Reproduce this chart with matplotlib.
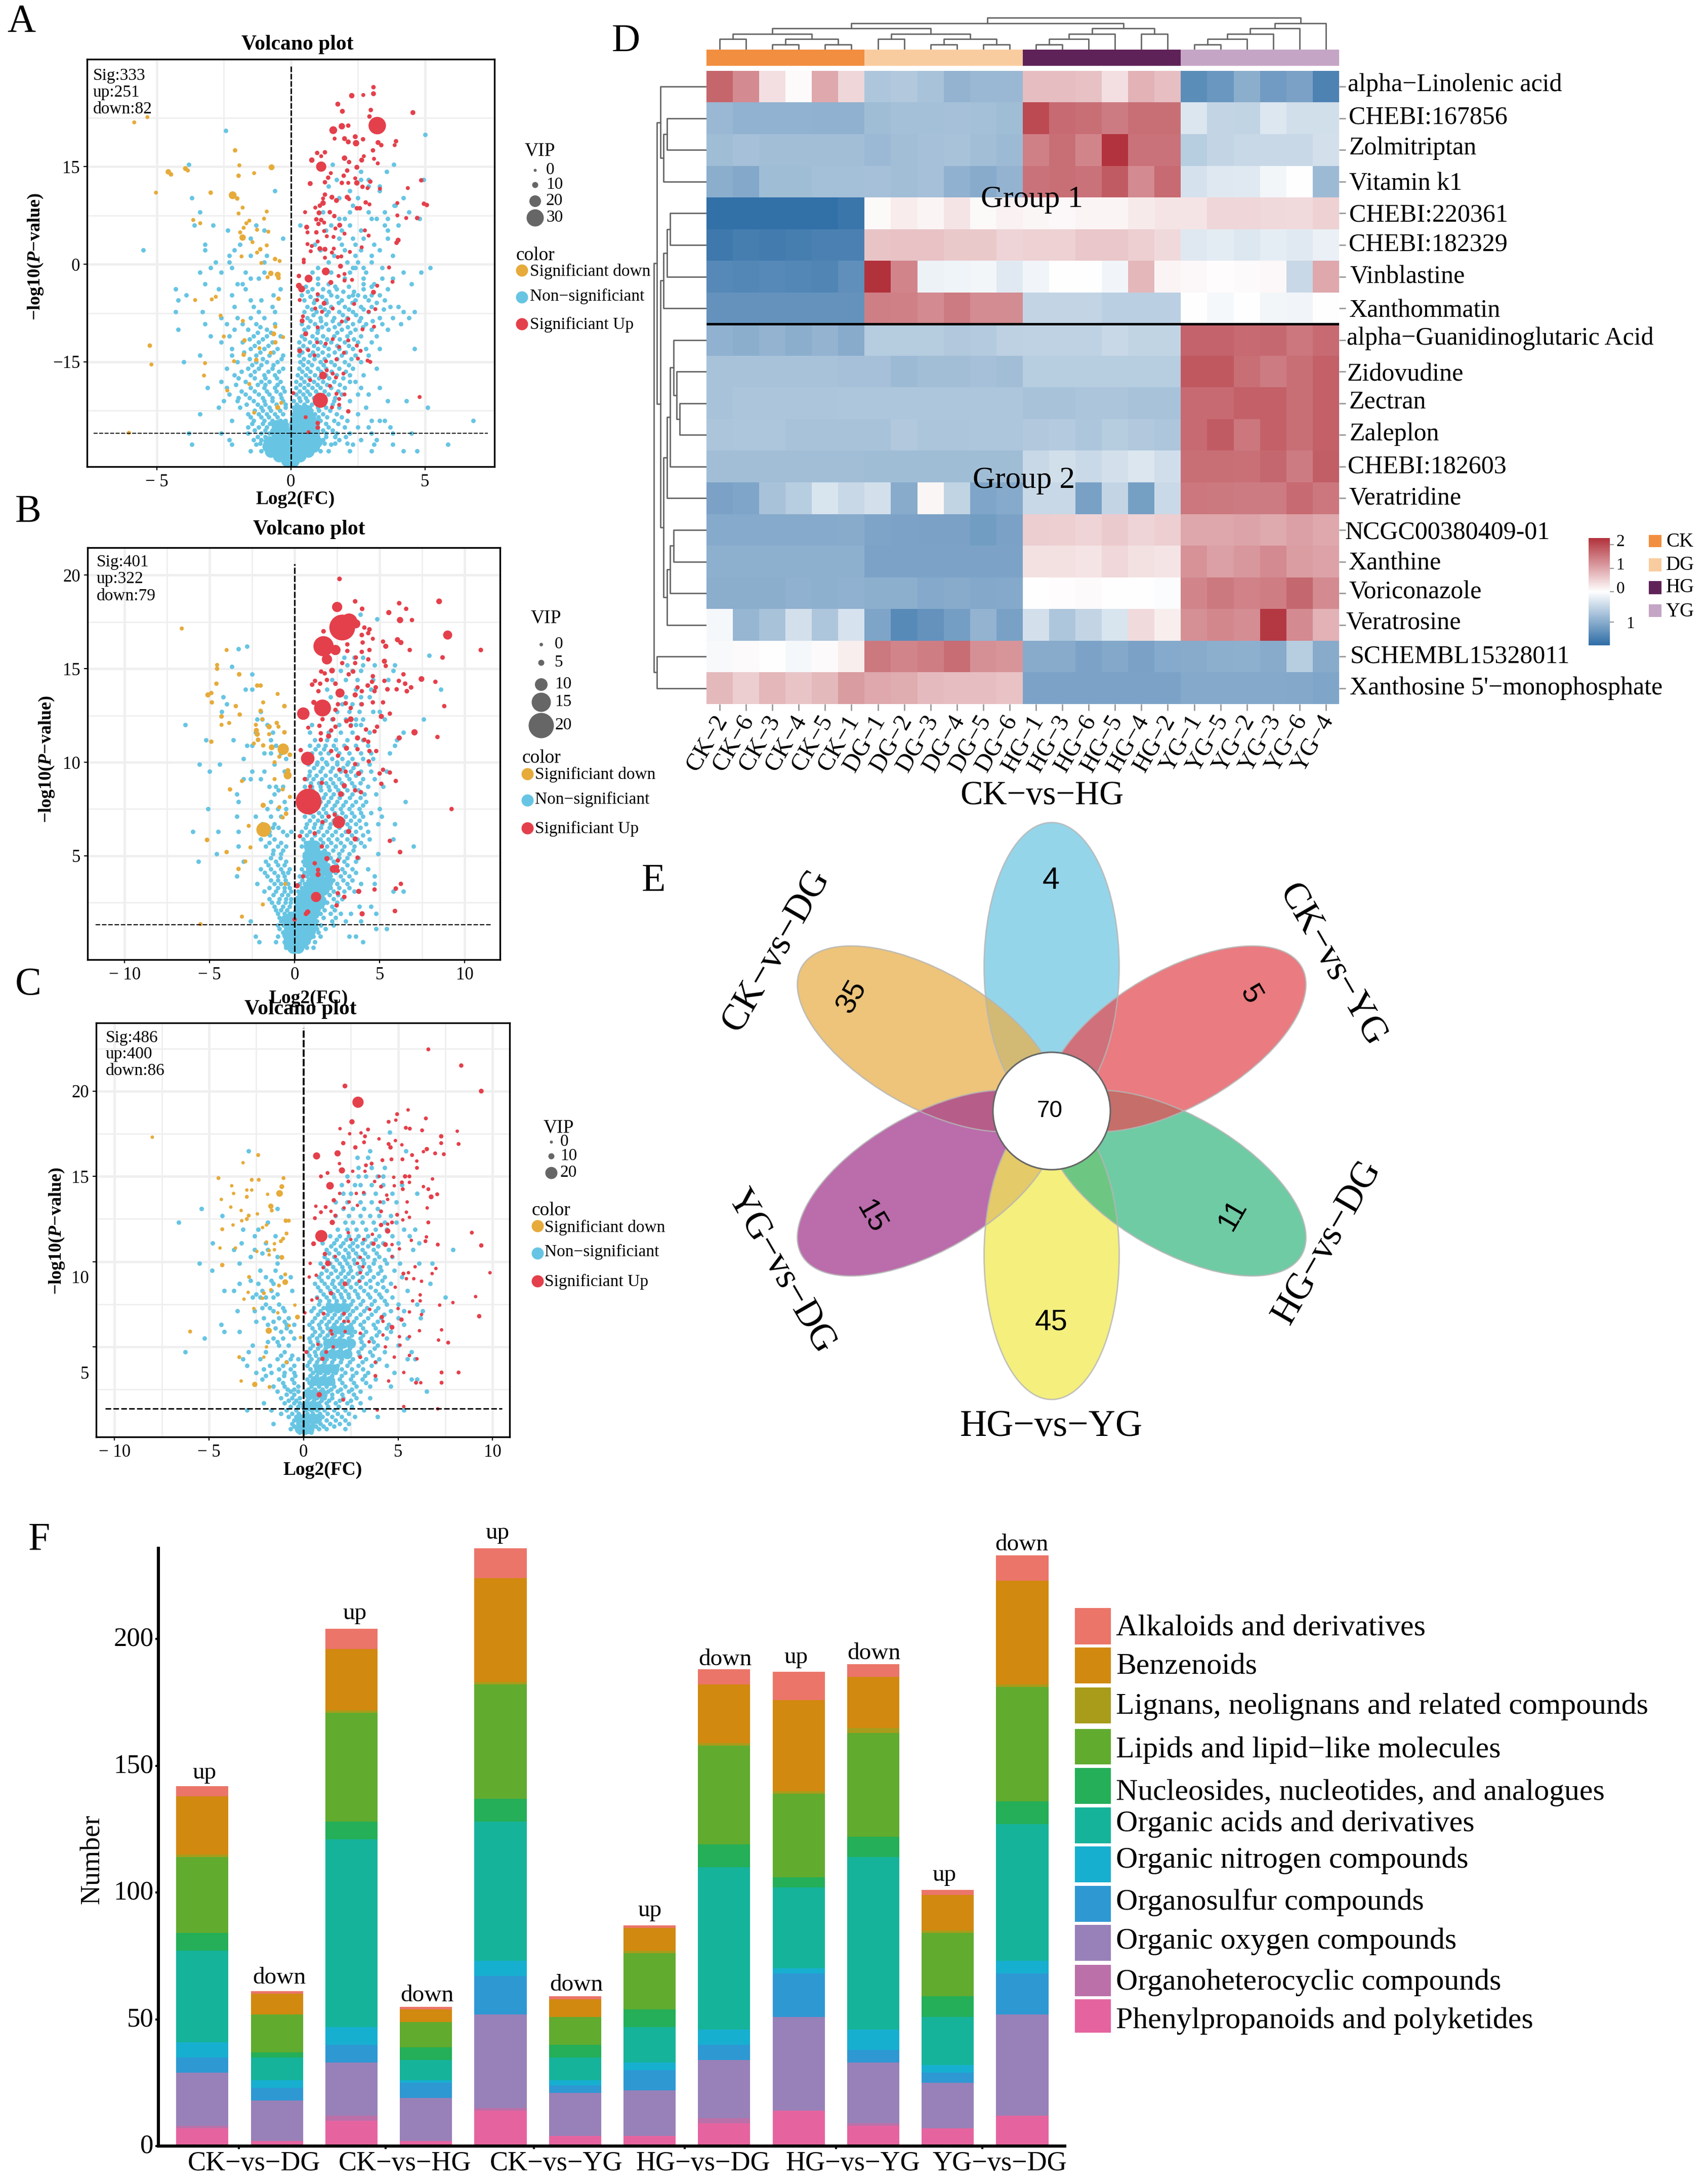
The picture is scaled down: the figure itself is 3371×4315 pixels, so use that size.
import math
import matplotlib
matplotlib.use('Agg')
import matplotlib.pyplot as plt
from matplotlib.colors import LinearSegmentedColormap, TwoSlopeNorm
from matplotlib.patches import Ellipse, Circle
from matplotlib.transforms import ScaledTranslation

plt.rcParams['font.family'] = ['Liberation Serif', 'DejaVu Sans']
plt.rcParams['mathtext.fontset'] = 'custom'
plt.rcParams['mathtext.rm'] = 'Liberation Serif'
plt.rcParams['mathtext.bf'] = 'Liberation Serif:bold'
plt.rcParams['mathtext.bfit'] = 'Liberation Serif:italic:bold'

W, H = 3371, 4315
# ------------------------------------------------------------------ volcano A
A_BLUE = [(20.5,[-2.43]),(19.9,[5.0]),(15.3,[1.56,3.83,-3.8]),(14.2,[3.58,2.6]),(13,[2.6,1.7,4.94,2.9]),(12,[2.9,1.4,3.3]),
 (11.3,[-0.6,2.2,3.3]),(10.2,[4.2,2.5,1.8,-3.7]),(9,[3.85,2.3,3.9]),(8,[-3.4,2.2,2.9,3.5,4.4,1.2]),(7,[3.2,4.8,3.0,1.8,2.0,3.6]),
 (6,[-2.9,0.35,1.5,2.2,3.5,4.0,-3.6,-1.3]),(5.2,[-2.35,1.3,1.9,2.6,3.6,-1.0]),(4,[1.8,2.3,3.6,2.7,-1.5,-0.3]),
 (3,[0.9,1.9,2.4,3.1,-1.9,-3.2]),(2.2,[-5.5,1.1,2.0,2.6,3.3,-2.1,-3.2]),(1.3,[-2.3,1.6,2.4,3.0,3.8,-1.5,-.9]),
 (.3,[-2.8,-2.3,1.4,2.1,2.5,3.0,-1.0]),(-.5,[-2.2,-3.0,1.0,2.3,2.4,2.7,3.4,5.2]),(-1.2,[-3.4,-2.6,-1.7,.8,1.5,2.2,2.8,4.85,4.2,-1.0]),
 (-2.2,[-1.5,-1.2,.6,1.0,2.0,2.7,3.4,3.8]),(-3,[-3.2,-1.8,1.0,1.4,2.7,3.1,4.5,-2]),(-3.8,[-4.3,-2.7,-1.7,-.4,.8,1.2,1.7,2.7,3.6]),
 (-4.7,[-3.9,-2.2,-.65,.4,1,1.5,2.3,2.5,3,3.3]),(-5.5,[-4.2,-1.5,-1.1,.5,.9,1.3,1.9,2.4,2.9,3.5]),
 (-6.5,[-2.1,-1.4,-.7,.6,1.1,1.5,2.0,2.6,3.0,3.7,4.0]),(-7.3,[-4.3,-3.3,-1.2,-.6,.5,.95,1.4,1.8,2.3,2.9,4.2,4.6]),
 (-8.2,[-2.6,-2,-1.5,-1.0,.6,1.1,1.6,2.1,2.6,3.3,3.8,4.4]),(-9.2,[-3.2,-2.4,-1.8,-1.3,-.6,.4,.9,1.3,1.8,2.3,2.8,3.4,4.1]),
 (-10,[-4.2,-2.1,-1.6,-.9,.5,1.0,1.4,1.9,2.4,3.0,3.6]),(-11,[-3,-2.3,-1.4,-.9,-.4,.4,.8,1.2,1.6,2.1,2.6,3.2]),
 (-12,[-2.6,-1.8,-1.2,-.7,.3,.7,1.1,1.5,2.0,2.5,3.0]),(-13,[-2.2,-1.5,-1,-.5,.3,.6,1.0,1.4,1.8,2.3,2.8,3.3,4.6]),
 (-14,[-3.4,-2.2,-1.3,-.8,-.3,.3,.7,1.0,1.4,1.9,2.4,2.9]),(-15,[-4,-2,-1.3,-.9,-.5,.35,.65,1.1,1.5,2,2.6]),
 (-16,[-2.4,-1.6,-1.2,-.7,-.3,.3,.6,1.0,1.3,1.8,2.3,3.2]),(-17,[-2.1,-1.5,-1.0,-.6,.25,.55,.9,1.3,1.7,2.2,2.7]),
 (-18,[-2.6,-1.7,-1.1,-.8,-.4,.2,.5,.85,1.2,1.6,2.2,2.4]),(-19,[-3.1,-2.4,-1.5,-1,-.6,-.3,.2,.5,.8,1.1,1.5,2,2.6,3.3]),
 (-20,[-2.3,-1.7,-1.2,-.8,-.4,.2,.45,.7,1.0,1.4,1.9,2.5,2.9]),(-21,[-2.5,-2.0,-1.4,-1,-.7,-.3,.1,.35,.6,.9,1.2,1.6,2.2,3.6,4.3]),
 (-22,[-2.7,-1.9,-1.1,-.8,-.5,-.2,.1,.4,.7,1,1.3,1.8,2.8,5.1]),(-23,[-3.4,-1.6,-1.2,-.9,-.6,-.3,.1,.35,.6,.9,1.2,1.7,2.5]),
 (-24,[-2.2,-1.4,-1,-.7,-.4,-.2,.1,.3,.5,.8,1.1,1.6,2.1,3,3.3,3.5,6.8]),(-25,[-1.6,-1.2,-.9,-.6,-.3,.1,.3,.5,.7,1,1.4,2,2.5,2.9,3.7]),
 (-26,[-3.8,-2.6,-1.6,-1.1,-.8,-.5,-.2,.1,.3,.5,.7,1,1.3,1.7,2.2,3,3.8,4.5]),(-27,[-2.3,-1.4,-1.1,1.2,1.8,2.6,3.2]),
 (-27.7,[-3.7,-2.2,-1.3,2.3,3.1,3.8,5.85,1.5]),(-28.7,[-1.5,-1.1,1.1,1.4,2.2,3.0,4.2,4.7])]
A_DENSE = [(-3.4,[.55,1.65,2.15,3.0]),(-4.2,[.62,1.42,1.95,2.35]),(-5.0,[.72,1.15,1.72,2.15,2.75]),(-5.9,[.85,1.32,1.78,2.28,3.2]),(-6.9,[.78,1.25,2.15,2.7,3.45]),
 (-7.8,[.83,1.33,1.92,2.42]),(-8.7,[.72,1.12,1.55,2.05,2.55,3.05]),(-9.6,[.65,1.15,1.62,2.12,2.68,-1.15]),(-10.5,[.55,.98,1.72,2.22,-1.25,-.75]),
 (-11.5,[.52,.95,1.35,1.82,2.35,-1.55,-1.05]),(-12.5,[.45,.85,1.25,1.72,2.15,-1.35,-.85]),(-13.5,[.42,.82,1.18,1.62,2.05,-1.75,-1.15,-.65]),
 (-14.5,[.48,.88,1.25,1.72,2.25,-1.55,-1.05,-.35]),(-15.5,[.45,.78,1.22,1.62,2.15,-1.45,-1.1,-.65]),(-16.5,[.42,.72,1.12,1.52,2.05,-1.85,-1.35,-.85,-.45]),
 (-17.5,[.38,.68,1.05,1.42,1.95,-1.95,-1.35,-.95,-.52]),(-18.5,[.35,.65,.98,1.35,1.82,-2.05,-1.25,-.95,-.5]),(-19.5,[.32,.6,.92,1.25,1.75,-1.85,-1.35,-.9,-.55,-.25]),
 (-20.5,[.3,.55,.85,1.15,1.65,-1.95,-1.55,-1.05,-.7,-.35]),(-21.5,[.22,.5,.78,1.12,1.55,-1.65,-1.25,-.95,-.55,-.2]),(-22.5,[.25,.5,.75,1.05,1.45,-1.35,-1.05,-.75,-.42]),
 (-23.5,[.22,.48,.72,1.02,1.35,1.9,-1.5,-1.1,-.82,-.5]),(-24.5,[.2,.42,.66,.95,1.3,1.75,-1.45,-1.05,-.78,-.48]),(-25.5,[.2,.42,.62,.88,1.2,1.55,-1.35,-.95,-.7,-.4]),
 (-26.5,[1.0,1.3,1.65,2.05,-1.25,-.95]),(-27.5,[1.25,1.65,2.1,-1.15])]
A_CORE = [(-26.5,[-.5,-.25,0,.25,.5,.75]),(-27.3,[-.8,-.5,-.2,.1,.4,.7,.95]),(-28,[-.85,-.6,-.3,0,.3,.6,.85]),(-28.8,[-.75,-.5,-.2,.1,.4,.65]),
 (-29.5,[-.45,-.2,.1,.35]),(-30.2,[-.15,.1]),(-25.5,[.12,.35,.6,.85]),(-24.5,[.15,.4,.65,.85]),(-23.5,[.2,.45,.7]),(-22.5,[.28,.55]),(-25.8,[-.55,-.3]),(-24.8,[-.5,-.3])]
A_ORANGE = [(-5.35,22.6,2),(-5.84,21.8,2),(-2.08,17.5,3),(-1.92,15.2,2),(-.72,14.9,6),(-1.37,14,2),(-1.95,13.6,3),(-4.57,14.2,5),(-4.47,13.8,3),
 (-3.93,14.7,4),(-3.84,14.4,2),(-5.03,11,2),(-2.99,11,3),(-2.17,10.6,10),(-2,10.1,3),(-1.8,8.7,2),(-.9,8.1,2),(-1.95,7.8,2),(-3.64,6.8,2),
 (-3.38,6.3,2),(-1,7,2),(-1.55,6.7,2),(-1.66,6.3,2),(-1.76,5.6,2),(-1.26,5.3,2),(-1.89,4.9,2),(-.84,5,2),(-1.8,4.1,7),(-1.43,3.4,2),(-.9,2.9,2),
 (-1.14,2.3,3),(-1.26,1.8,2),(-1.84,1.2,2),(-.59,.8,3),(-.42,.5,2),(-1.1,.2,2),(-.75,-1.4,5),(-.49,-1.6,6),(-.46,-2.1,3),(-.87,-2,2),(-.46,-5.3,3),
 (-2.8,-5,2),(-3.57,-5.5,2),(-2.95,-5.4,2),(-2.62,-7.9,2),(-1.79,-8.7,2),(-.58,-9.6,2),(-.64,-10.7,4),(-.29,-11.2,2),(-2.5,-11.1,2),(-1.73,-11.7,3),
 (-.58,-12,3),(-5.26,-12.5,3),(-1.17,-12.9,2),(-.75,-13.6,2),(-1.76,-13.9,3),(-5.2,-15.4,2),(-1.29,-14.7,3),(-2.12,-14.9,2),(-3.2,-15.2,2),
 (-3.24,-17.1,2),(-1.55,-18.4,2),(-2.37,-19.4,2),(-.36,-21.3,2),(-.49,-22,4),(-1.37,-22.8,2),(-6.04,-25.9,2)]
A_RED = [(3.22,21.3,30),(1.1,-20.9,25),(1.13,15,15),(1.58,20.6,10),(1.9,21.2,7),(1.3,-1.1,10),(.66,-2.2,10),(1.2,-17.1,10),(.4,-3.8,8),(.3,-3.3,6),
 (2.43,18.6,7),(2.27,25.9,5),(3.08,26.2,4),(3.08,27.2,3),(2.7,26,2),(1.75,24.6,4),(1.92,23.5,4),(4.55,23.3,4),(2.98,23.7,3),(2.93,22.7,3),(2.14,21.3,3),
 (1.63,19.3,2),(2,19.3,4),(2.14,18.8,4),(2.4,19.6,4),(2.69,19.2,3),(3.25,18.7,4),(3.37,18.3,3),(3.92,18.9,3),(3.87,18.3,2),(3.06,17.5,3),(1.27,17.2,3),
 (.98,17.1,3),(1.13,16.6,2),(.78,16,5),(2,16.3,5),(2.17,15.7,3),(2.64,16,4),(2.72,16.6,2),(3.1,16.2,2),(3.24,15.5,2),(2.46,14.9,4),(2.1,14.4,3),(1.97,13.6,3),
 (1.49,14,2),(1.39,13.3,3),(2.4,13.2,2),(.72,12.4,4),(1.27,12.6,3),(1.9,12.5,3),(2.14,12.5,2),(2.46,12.5,5),(2.96,12.7,3),(2.67,11.9,3),(2.86,11.7,2),(3.32,11.6,2),
 (4.86,12.9,3),(4.36,11.7,2),(1.27,10.7,3),(1.2,10.1,2),(1.53,10.3,4),(1.7,9.8,4),(2.1,10.3,4),(2.17,10,2),(2.79,9.5,3),(2.93,9.2,2),(1.2,9.4,5),(1.08,9,3),(.91,8.7,2),
 (2.46,8.6,3),(2.57,8.6,3),(3.97,9.4,2),(4.96,9.3,3),(5.07,9.1,3),(.53,8,2),(1.05,7.9,4),(1.45,8,3),(1.62,7.4,3),(3.97,7.5,2),(4.3,7.1,2),(4.71,7.1,3),(.95,6.9,3),
 (1.13,6.8,3),(1.03,6.2,3),(1.82,6,4),(.59,5.7,4),(1.24,6.4,2),(1.66,5.5,2),(.95,4.9,3),(1.24,5.1,2),(.62,4.9,2),(1.34,4.3,2),(1.59,4.2,2),(2,4.7,2),(2.76,5.2,2),(2.9,4.4,2),
 (1,3.5,2),(4,3.7,4),(3.94,3.3,3),(.62,3.1,2),(.78,2.8,2),(1.08,2.4,4),(1.27,2.3,4),(.74,2,2),(2.64,2.6,2),(1.6,2.4,2),(2.2,1.9,2),(1.53,1.8,2),(1.88,1.2,2),(1.75,1.1,2),
 (.48,.7,2),(1.27,1,2),(.48,.3,2),(1.85,-.3,4),(3.66,-.5,2),(2,-1.5,2),(.3,-1.8,3),(1.78,-1.8,2),(1.49,-2.8,4),(2,-2.5,2),(2.28,-2.4,2),(3.22,-3.3,2),(3.79,-2.7,2),(3.08,-4.3,4),
 (.33,-5.5,2),(1,-4.6,2),(.98,-5.5,2),(1.24,-6,4),(2.36,-6.1,2),(2.9,-7.3,2),(3.15,-6.9,2),(1.56,-6.8,2),(1.16,-7.3,2),(.91,-6.8,2),(.45,-8,2),(.42,-8.7,4),(2.14,-8.4,2),(1.9,-8.8,2),
 (1,-9.7,2),(.55,-10.7,4),(2.67,-10,2),(3.1,-9.6,2),(.98,-12,2),(1.56,-11.5,2),(2.14,-11.7,2),(1.3,-12.2,2),(2.46,-12.5,2),(1.8,-12.7,2),(.33,-13.3,4),(.65,-13.2,2),(2.6,-13.3,2),
 (1.98,-13.6,2),(.88,-14,2),(2.5,-14.5,2),(1.31,-14.9,2),(1.7,-14.6,2),(2.86,-14.8,2),(2.96,-15,2),(1.34,-16.3,2),(1.56,-16.8,2),(1.96,-16.8,2),(1.68,-17.4,2),(.72,-17.8,2),(1.46,-18.7,2),
 (.09,-19.8,2),(1.7,-19.9,2),(2,-20,2),(1.8,-20.7,2),(1.8,-21.6,2),(1.53,-22,2),(4.8,-20.4,2),(2.14,-22.6,3),(.55,-23.5,2),(1,-24.4,3),(1,-25.1,3),(.66,-25.8,2)]
# ------------------------------------------------------------------ volcano B
B_BLUE = [(17.9,[3.85]),(17.66,[4.85]),(15.7,[7.9]),(16.2,[-2.8]),(16.05,[-3.3]),(15.1,[-3.7]),(15.6,[2.9,3.5,4.0]),(15.2,[3.1,4.0,4.7,5.9]),(14.9,[2.7,3.4,3.9,5.8]),
 (14.7,[-2.5]),(14.4,[2.2,3.0,3.7,4.6,5.5]),(13.9,[1.9,3.6,4.5,8.6,-2.9,-2.5]),(13.5,[2.1,3.0,3.9,4.4,-4.2]),(13.1,[2.8,3.4,3.9,-4.0]),(12.7,[2.5,3.2,3.8,4.6,5.0,-4.3,-2.0]),
 (12.3,[2.2,3.0,3.6,4.0,5.3,7.6,-2.2,-1.9]),(12,[1.0,2.6,3.3,3.6,3.9,-6.44,-1.6]),(11.6,[0.9,2.0,2.7,3.4,4.4,6.4,-1.3,-2.3]),(11.2,[1.2,1.9,2.4,3.1,4.0,6.0,-5.2,-3.6,-1.4]),
 (10.9,[.9,1.4,1.8,2.3,2.9,3.6,4.3,5.9,-2.8,-2.5,-1.1]),(10.5,[1.0,1.5,2.0,2.6,3.2,3.9,4.5,5.6,-1.8,-1.4,-.8]),(10.2,[1.0,1.6,2.2,2.8,3.4,4.0,4.6,-3,-.5]),
 (9.9,[.8,1.3,1.9,2.5,3.1,3.7,4.4,-5.6,-4.4,-1.2]),(9.5,[.9,1.5,2.1,2.7,3.3,3.9,4.5,5.4,-5,-2.5,-1.8,-.6]),(9.1,[.7,1.1,1.6,2.1,2.6,3.2,4.0,4.7,-3.0,-2.6,-2.0]),
 (8.7,[.6,1.0,1.5,2.0,2.4,2.9,3.5,4.3,5.2,-1.5,-1.1,-.7]),(8.3,[.8,1.3,1.8,2.3,2.8,3.4,4.1,4.8,-3.4,-1.2]),(7.9,[1.5,2.0,2.5,3.0,3.6,4.2,6.5,-3.3,-1.4,-.6]),
 (7.5,[1.2,1.7,2.2,2.7,3.2,3.8,5.0,-5.1,-1.6,-1.0,-.5]),(7.1,[.6,1.1,1.6,2.0,2.5,3.0,3.5,4.0,5.1,-3.4,-2.3,-1.4,-.8]),(6.7,[.7,1.2,1.6,2.1,3.1,3.6,4.2,4.9,5.9,-1.9,-1.2]),
 (6.3,[.4,.9,1.4,1.9,2.4,3.0,3.6,4.3,-6.0,-4.5,-3.3,-1.5,-.7,-.2]),(5.9,[.5,1,1.5,2,2.5,3.1,3.7,4.4,5.8,-2.0,-1.2]),(5.5,[.4,.9,1.4,1.9,2.4,2.9,3.5,4.1,7.0,-3.3,-1.7,-1.0,-.5]),
 (5.1,[.6,1.0,1.5,2.0,2.6,3.2,4.9,-4.6,-1.3,-.8]),(4.7,[.5,.9,1.3,1.8,2.3,2.9,3.6,-5.65,-3.0,-1.7,-1.1,-.5]),(4.3,[.4,.8,1.2,1.7,2.2,2.8,3.4,4.3,-2.0,-1.4,-.8,-.3]),
 (3.9,[.3,.7,1.1,1.6,2.1,2.7,3.2,4.7,-3.4,-1.6,-1,-.6]),(3.5,[.3,.6,1.0,1.5,2.0,2.5,3.1,3.9,4.7,-2.2,-1.2,-.8,-.4]),(3.1,[.2,.6,.9,1.3,1.8,2.3,2.9,3.5,-1.8,-1.1,-.6,-.2,5.8,6.4]),
 (2.7,[.1,.4,.8,1.2,1.7,2.3,2.8,-1.5,-.9,-.5,-.2]),(2.3,[.1,.4,.7,1.1,1.6,2.2,3.8,4.5,-1.2,-.7,-.3]),(1.9,[.1,.4,.7,1,1.5,2.1,2.7,3.3,4.8,-1,-.6,-.3,-.2]),
 (1.5,[.1,.3,.6,.9,1.3,2.2,3,3.9,-2.6,-.8,-.5,-.2]),(1.1,[.1,.3,.6,.9,1.3,1.8,4.8,5.4,-.9,-.5,-.2]),(.7,[.1,.3,.5,.8,1.1,1.5,3.2,3.6,-2.3,-1,-.5,-.2]),
 (.4,[.1,.3,.5,.8,1.2,4,-2.1,-1.1,-.6,-.3]),(.1,[.0,.2,.4,.7,1.1,-.5,-.2])]
B_DENSE = [(10.7,[1.22,1.72,2.45]),(10,[1.32,1.85,2.5,3.15]),(9.7,[1.12,1.62,2.22,2.85,3.45]),(9.3,[.85,1.28,1.82,2.4,3.05,3.6]),(8.9,[.95,1.42,1.85,2.25,2.75,3.35,3.85]),
 (8.5,[1.05,1.55,2.05,2.55,3.1,3.75,-.95]),(8.1,[1.15,1.7,2.15,2.65,3.25,3.85]),(7.7,[1.35,1.85,2.35,2.85,3.4,4.0]),(7.3,[.92,1.42,1.85,2.35,2.8,3.35,3.9,4.5]),
 (6.9,[.88,1.35,1.82,2.3,2.85,3.3,3.8]),(6.5,[.65,1.12,1.55,2.05,2.6,3.25,3.85,-.95,-1.3]),(6.1,[.72,1.2,1.7,2.2,2.75,3.35,4.0,-.45,-1.45]),(5.7,[.65,1.15,1.65,2.15,2.7,3.3,3.9,-1.5,-.8]),
 (5.3,[.7,1.2,1.75,2.25,2.8,3.45,-1.25,-.7]),(4.9,[.65,1.05,1.55,2.1,2.6,3.1,3.75,-1.4,-.85]),(4.5,[.6,1.0,1.4,1.95,2.45,3.1,-1.55,-1.0,-.6]),(4.1,[.55,.95,1.4,1.9,2.4,2.95,3.6,-1.75,-1.2,-.7,-.4]),
 (3.7,[.45,.85,1.3,1.75,2.25,2.85,3.4,-1.4,-1.0,-.55]),(3.3,[.4,.75,1.15,1.6,2.1,2.6,3.2,-1.5,-1.0,-.6,-.3]),(2.9,[.35,.7,1.05,1.5,2.05,2.55,-1.25,-.75,-.4]),
 (2.5,[.25,.55,.95,1.4,1.9,2.5,-1.35,-.95,-.55,-.25]),(2.1,[.25,.55,.85,1.25,1.75,2.35,-1.1,-.8,-.45]),(1.7,[.25,.5,.85,1.15,1.7,2.4,-.9,-.65,-.35]),(1.3,[.2,.45,.75,1.1,1.55,2.3,-1.0,-.65,-.35]),(.9,[.2,.45,.7,1.0,1.4,-.7,-.35])]
B_CORE = [(5.5,[.9,1.2]),(5,[.8,1.1,1.4,1.7]),(4.6,[.9,1.2,1.5]),(4.2,[1.0,1.3,1.6,1.9]),(3.6,[1.0,1.3,1.6,1.9]),(3.2,[.8,1.1,1.4,1.7]),(2.9,[.5,.8,1.1,1.4]),(2.6,[.3,.6,.9,1.2,1.5]),
 (2.2,[.3,.6,.9,1.2]),(1.9,[.2,.5,.8,1.1]),(1.6,[.0,.3,.6,.9,-.4]),(1.3,[-.2,.1,.4,.7,1.0]),(1.0,[-.3,.0,.3,.6,.9]),(.8,[-.4,-.1,.2,.5,.8]),(.5,[-.3,.0,.3,.6]),(.3,[-.3,0,.3]),(.1,[-.1,.2])]
B_ORANGE = [(-6.64,17.15,.5),(-4,16,.5),(-4.56,15.2,.5),(-4.56,15,.8),(-3.26,14.7,1),(-4.6,14.2,.8),(-2.2,14.1,.8),(-2,14.1,.8),(-4.9,13.7,.8),(-5.1,13.6,1.5),(-1,13.65,.5),(-4.87,13.2,.8),
 (-3.46,13,.8),(-1.85,13.2,.5),(-.6,13,1),(-2,12.75,.8),(-3.23,12.55,.8),(-4.3,12.45,1),(-1.9,12.3,.5),(-3.85,12.1,.5),(-4.3,12,.5),(-2.28,12,.5),(-1.05,12.1,.8),(-2.25,11.7,1.5),(-1.5,11.9,1.5),
 (-.95,11.9,.5),(-2.2,11.5,1.5),(-.6,11.6,1),(-1.5,11.5,.5),(-2.15,11.2,1),(-4.9,11.1,.8),(-2.4,11,.5),(-1.85,10.9,.8),(-1.35,10.8,2),(-.67,10.7,7),(-.28,10.4,1),(-1.18,10,.5),(-.9,10.3,.5),
 (-.41,9.3,4),(-.4,9.55,1.5),(-3.1,9,.5),(-1.18,9.1,.5),(-3.8,8.55,.8),(-.7,8.55,.5),(-.28,8.15,.5),(-1.85,7.7,1.5),(-.9,7.6,.5),(-.5,7.25,1),(-.7,7.05,.5),(-2.7,6.6,.5),(-1.82,6.4,10),(-5.15,5.85,1),
 (-2.6,5.45,.5),(-4,5.2,.8),(-2.9,4.7,.5),(-3.3,4.3,.8),(-.55,3.5,.5),(-1.87,2.4,.5),(-3.1,1.75,.5),(-5.54,1.35,.5)]
B_RED = [(2.8,17.2,20),(3.2,17.5,12),(1.7,16.2,15),(.82,7.9,20),(1.64,12.9,12),(.77,10.2,9),(.51,12.6,8),(2.5,18.3,6),(2.6,6.8,8),(1.26,2.8,6),(2.67,13.7,5),(9,16.8,5),(2.4,16,6),(1.9,15.5,6),(3.6,17.4,5),
 (2.3,4.3,4),(8.5,18.6,2),(2.64,19.8,1),(3.56,18.6,1),(6.15,18.5,1),(6.56,18.2,.8),(3.97,18.2,1),(5.54,18,1.5),(6.2,17.6,2.5),(6.9,17.6,.8),(4.1,17.2,.8),(4.4,17.1,1),(4.33,16.9,.8),(1.7,17,1),(3.95,16.8,1),(4.6,16.6,.5),
 (5.2,16.45,.8),(6.05,16.55,1.5),(6.25,16.4,1.5),(5.36,16.2,1.5),(4,16.4,.8),(6.77,16,.8),(10.95,16,1),(3.1,16.3,.8),(3.1,15.95,.8),(3.95,15.9,.8),(4.4,16,.8),(8.7,15.6,1),(5.28,15.4,1.5),(3.6,15.6,.8),(4.33,15.5,.8),
 (2.8,15.3,.8),(3.56,15.3,.8),(5.36,15.15,.8),(2.2,14.9,2),(3.44,14.85,1),(7.46,14.45,2),(6.4,14.7,.8),(1.56,14.85,.8),(1.77,14.75,.8),(3.18,14.7,.8),(8.28,14.3,.8),(6.13,14.35,.8),(1.9,14.4,.8),(2.4,14.2,1),(4.6,14.6,.8),
 (5.28,14.35,.8),(1.2,14.35,.8),(1.03,14.15,1),(1.5,14.2,.8),(4.3,14.1,1),(4.55,14.3,.8),(3.7,14,.8),(6.5,14.2,1),(6.85,14,1),(4.77,14,1),(5.46,13.9,1),(6,13.9,.8),(6.6,13.8,1),(1.4,13.8,.8),(3.56,13.6,1.5),(3.95,13.8,.8),
 (4.7,13.8,.8),(1.13,13.2,1.5),(3,13.15,1),(3.95,13.1,.8),(4.6,13.2,.8),(5.2,13.2,.8),(8.8,13,.8),(2.4,12.8,.8),(3.3,12.9,.8),(2.55,13.1,.8),(5.1,12.45,1.5),(5.6,12.6,.8),(3.3,12.3,2),(3.05,12.2,1),(1.64,12.3,.8),
 (2.27,12.3,.8),(.8,11.85,.5),(1.46,11.95,.8),(2.4,11.9,.8),(2.15,11.7,.8),(3.3,11.95,.8),(4.85,11.9,.8),(4.7,11.65,.8),(4.2,11.75,.8),(7.05,11.6,2.5),(1.54,11.55,.8),(6.15,11.3,1.5),(8.4,11.35,.8),(2,11.4,1.5),
 (3.7,11.3,1.5),(4.1,11.2,.8),(4.33,11.1,.8),(1.54,11.2,.8),(3.05,10.75,1.5),(2.15,10.6,.8),(3.7,10.7,.8),(4.4,10.6,.8),(4.8,10.6,.8),(.36,10.65,.8),(3.56,9.9,.8),(4.36,10.05,.8),(2.55,10.35,.8),(5.2,9.6,.8),(5,9.4,.8),
 (5.6,9.45,.8),(3.77,9.4,1.5),(2.64,9.6,.8),(5.95,9,.8),(5.1,8.85,.8),(3,9.5,.8),(.6,9.1,.8),(1.6,8.9,.8),(.92,8.7,.8),(2.92,8.75,1.5),(2.72,8.3,2),(3.56,8.5,.8),(3.9,8.4,.8),(2.36,7.2,.8),(9.23,7.5,.8),(2,7.1,.8),(1.64,6.8,.8),
 (3.18,6.3,1.5),(1.18,6.2,.8),(.31,6.05,.8),(3.56,5.9,1.5),(5.6,5.8,.8),(6.2,5.2,1),(1.6,5.5,.8),(1.9,4.85,1.5),(2.54,4.75,.8),(1.18,4.6,.8),(3.7,4.9,.8),(2.5,4.4,.8),(2.54,4.2,.8),(1.38,4,1.5),(1.38,4.25,.8),(.5,3.9,.8),
 (6.25,3.5,.8),(5.95,3.25,1),(4.7,3.2,.8),(3.77,3.1,1.5),(.15,3.4,1.5),(2.54,3,.8),(2.92,2.8,1),(5.9,2.05,1),(3.97,1.9,1.5),(.77,2,1.5),(.67,1.9,1),(2.47,2.35,.8),(0,1.6,.8)]
# ------------------------------------------------------------------ volcano C
C_BLUE = [(17.6,[4.56]),(16.5,[3.5,5.4,-2.9]),(16.1,[2.85,3.4]),(15.5,[2.9,3.6,4.3]),(15,[2.3,2.9,3.3,3.9,4.2]),(14.5,[2.0,2.7,3.0,3.6,4.2,5.2]),(14,[2.1,2.5,3.2,3.8,4.7,6.0]),
 (13.5,[1.7,2.3,3.0,3.6,4.2,4.9]),(13.1,[2.1,2.6,3.2,3.9,-5.4,-1.4]),(12.7,[1.7,2.4,3.0,3.5,4.0,4.6,-4.3]),(12.3,[1.5,2.2,2.6,3.1,3.7,4.3,4.9,-6.6,-1.9]),(11.9,[1.8,2.3,2.8,3.3,3.8,4.4,5.3,5.9,-3.2,-2.4]),
 (11.5,[1.4,1.9,2.4,2.9,3.4,4.0,4.7,5.6,-2.6,-1.5]),(11.1,[1.0,1.6,2.1,2.6,3.1,3.6,4.2,5.0,6.1,-4.8,-3.3,-2.0]),(10.7,[1.2,1.7,2.2,2.6,3.1,3.7,4.5,5.8,7.9,-3.7,-2.6,-1.9]),
 (10.3,[1.1,1.6,2.1,2.4,2.9,3.4,4.0,4.7,-2.8,-1.4]),(9.9,[.9,1.4,1.9,2.3,2.7,3.2,3.7,4.4,5.1,6.1,6.8,-5.5,-3.4,-1.4]),(9.5,[1.2,1.7,2.1,2.5,3.0,3.5,4.1,4.8,-4.85,-2.3,-1.5]),
 (9.1,[.8,1.3,1.8,2.2,2.6,3.1,3.7,4.3,5.2,-2.0,-1.2,-.7]),(8.7,[.6,1.1,1.5,1.9,2.3,2.8,3.3,3.9,4.6,6.7,-3.4,-2.4,-1.6]),(8.3,[.9,1.4,1.8,2.2,2.7,3.2,3.8,4.4,5.5,-4.2,-3.7,-2.2,-1.7,-.6]),
 (7.9,[.7,1.2,1.6,2.0,2.4,2.9,3.5,4.1,4.7,7.5,-2.7,-2.3,-2.0,-1.6]),(7.5,[.8,1.3,1.7,2.1,2.5,3.0,3.6,4.4,5.0,6.0,-2.0,-1.3]),(7.1,[.4,.9,1.4,1.8,2.2,2.6,3.2,3.8,4.6,5.3,6.3,-3.5,-2.6,-1.6,-1.0]),
 (6.7,[.6,1.1,1.5,1.9,2.3,2.8,3.4,4.1,5,6.2,-2.1,-1.3,-.8]),(6.3,[.3,.8,1.2,1.6,2.0,2.5,3.0,3.7,4.5,5.3,-4.35,-1.9,-.9,-.5]),(5.9,[.6,1,1.4,1.8,2.2,2.7,3.3,4,4.6,-4.2,-3.4,-1.2,-.7]),
 (5.5,[.3,.7,1.1,1.5,1.9,2.4,3.0,3.6,4.4,5.5,-5.25,-1.6,-1.1,-.5]),(5.1,[.5,.9,1.3,1.7,2.1,2.6,3.2,3.9,5.0,-2.7,-1.3,-.8]),(4.7,[.2,.6,1,1.4,1.8,2.3,2.9,3.5,4.3,5.7,-6.25,-2.9,-2.0,-1]),
 (4.3,[.4,.8,1.2,1.6,2,2.6,3.3,4.0,-3.2,-2.3,-1.4,-.7,-.3,5.9,5.5]),(3.9,[.2,.6,1,1.4,1.8,2.3,2.9,3.6,4.4,-3.0,-1.8,-1.1,-.5]),(3.5,[.5,.9,1.3,1.7,2.2,2.8,3.4,4.8,-2.5,-1.7,-1.0,-.5]),
 (3.1,[.2,.6,1,1.4,1.9,2.5,3.1,3.8,5.7,6,-2.2,-1.3,-.6]),(2.7,[.4,.8,1.2,1.6,2.2,2.8,3.5,4.6,-1.6,-1.0,-.3]),(2.4,[.1,.5,.9,1.3,1.8,2.4,3.0,6.5,-1.4,-.7,-.3]),(2,[.3,.7,1.1,1.5,2.1,2.8,3.5,-1.2,-.6,-.2]),
 (1.7,[.1,.4,.8,1.2,1.7,2.3,3.0,-2.1,-1.0,-.5,-.2]),(1.3,[.1,.4,.7,1.1,1.6,2.2,3.2,5.3,-3,-1.7,-.9,-.4]),(.9,[.0,.3,.6,1,1.5,2,2.7,3.9,-.8,-.4,-.1]),(.5,[.0,.2,.5,.9,1.4,1.9,2.4,-1.6,-.6,-.3]),
 (.2,[.0,.2,.4,.8,1.2,2.2,-.7,-.3]),(0,[.0,.1,.4,-.2])]
C_DENSE = [(11.3,[1.75,2.25,2.75,3.25,3.8]),(10.9,[1.45,1.95,2.45,2.85,3.4,3.95]),(10.5,[1.35,1.85,2.35,2.75,3.25,3.85,-2.2]),(10.1,[1.25,1.75,2.2,2.65,3.15,3.75,4.3]),(9.7,[1.05,1.55,2.05,2.45,2.95,3.45,4.05]),
 (9.3,[.95,1.45,1.95,2.35,2.85,3.35,3.95]),(8.9,[.95,1.55,2.0,2.4,2.95,3.5,4.15,-1.7,-2.8]),(8.5,[.75,1.25,1.65,2.05,2.5,3.0,3.55,4.2]),(8.1,[1.05,1.55,1.95,2.35,2.85,3.4,4.0,-1.4,-2.5]),
 (7.7,[.85,1.35,1.75,2.15,2.6,3.15,3.75,4.3]),(7.3,[.55,1.05,1.55,1.95,2.35,2.8,3.35,3.95,-1.8,-1.1,-2.2]),(6.9,[.75,1.25,1.65,2.05,2.45,3.0,3.6,4.25]),(6.5,[.45,.95,1.35,1.75,2.15,2.65,3.2,3.9,-1.6,-1.0,-2.5]),
 (6.1,[.45,.85,1.25,1.65,2.05,2.55,3.15,3.8,4.4,-1.5,-.9]),(5.7,[.45,.85,1.25,1.65,2.05,2.55,3.15,3.85]),(5.3,[.35,.75,1.15,1.55,1.95,2.45,3.05,3.7,-1.9,-1.4]),(4.9,[.35,.75,1.15,1.55,1.95,2.45,3.05,3.75]),
 (4.5,[.3,.65,1.05,1.45,1.85,2.35,2.95,3.65,-1.2,-.6]),(4.1,[.3,.7,1.1,1.5,1.95,2.45,3.1,3.8,-.9]),(3.7,[.35,.75,1.15,1.55,2.0,2.55,3.15,-1.3,-.7,-2.1]),(3.3,[.35,.7,1.1,1.5,2.0,2.6,3.25,-1.05,-.45,-2.0]),
 (2.9,[.3,.7,1.1,1.55,2.05,2.65,3.3,-1.1,-.5]),(2.5,[.25,.6,1.0,1.45,1.95,2.55,-.85,-.5]),(2.2,[.3,.65,1.05,1.5,2.05,2.65,-.9,-.5]),(1.85,[.2,.55,.95,1.35,1.9,2.5,-.8,-.4]),(1.5,[.25,.55,.9,1.3,1.85,2.55,-.7,-.3]),
 (1.1,[.2,.5,.85,1.25,1.8,2.4,-1.2,-.6,-.25]),(.7,[.15,.4,.75,1.2,1.7,2.2,-.5,-.2]),(.35,[.1,.35,.65,1.05,1.6,-.5,-.15])]
C_CORE = [(5.2,[1.3,1.7,2.1,2.5]),(4.6,[1.1,1.5,1.9,2.3]),(6.0,[1.6,2.0,2.4]),(7.3,[1.4,1.8,2.2]),(3.7,[.8,1.2,1.6]),(3,[.6,1,1.4]),(2.2,[.3,.6,1]),(1.5,[.1,.4,.7]),(.8,[-.2,.1,.4,.7]),(.2,[-.2,.1,.3])]
C_ORANGE = [(-8,17.3,1),(-2.4,16.25,2),(-3.2,15.8,1),(-4.5,14.9,2),(-2.74,14.8,2),(-2.37,14.8,2),(-1.06,14.9,2),(-3.8,14.45,1),(-1.15,14.4,4),(-3,14.2,1),(-2.74,14.2,1),(-1.27,14,8),(-3.7,14,1),(-3,13.8,2),(-1.9,13.95,1),
 (-4.35,13.65,1),(-1.73,13.25,5),(-1.68,13,2),(-3.85,13.2,1),(-3.3,13,1),(-2.44,12.8,1),(-2.9,12.7,2),(-3,12.5,2),(-3.27,12.4,1),(-1.96,12.15,1),(-.94,12.4,3),(-.78,12.4,2),(-3.73,12.15,1),(-4.3,11.9,2),(-2.17,12,1),
 (-.9,11.65,2),(-1.08,11.35,2),(-1.2,11.2,2),(-1.54,11.05,1),(-1.96,11.15,1),(-4.42,10.8,1),(-3.6,10.8,1),(-2.47,10.6,1),(-1.82,10.65,1),(-1.54,10.7,1),(-1.82,10.4,1),(-1.15,10.25,4),(-4.3,9.8,3),(-.97,9.25,2),(-.97,8.8,6),
 (-2.88,9.1,2),(-1.3,8.6,2),(-1.73,8.35,1),(-2.1,8.15,2),(-2.93,8.2,1),(-3.15,7.8,1),(-2.17,7.85,1),(-.46,7.45,1),(-2.63,7.25,1),(-1.36,7,1),(-.32,6.75,4),(-6,5.9,2),(-1.84,5.95,7),(-.76,6.25,1),(-.16,5.55,1),(-1.96,5,1),
 (-3.4,4.4,2),(-2.1,4.4,1),(-.9,4.1,2),(-3.3,3,1),(-2.58,2.8,5),(-1.8,2.65,2)]
C_RED = [(2.88,19.35,18),(.94,11.5,20),(1.4,14.45,10),(.69,16.2,9),(1.8,16.35,7),(2.03,15.35,7),(1.29,9.9,6),(.83,2.2,5),(2.19,20.3,4),(9.4,20,4),(8.34,21.5,3),(6.6,22.45,2),(2.56,18.2,5),(5.53,18.9,1),(4.95,18.65,2),(4.88,18.3,1),
 (6.47,18.4,2),(4.5,18.2,2),(1.93,17.8,1),(3.04,17.55,1),(3.41,17.75,2),(5.41,17.85,2),(5.62,17.8,2),(6.27,17.7,2),(8.13,17.65,1),(2.44,17.5,1),(7.28,17.35,3),(3.25,17.35,2),(4.86,17.1,1),(3.99,17.2,1),(3.2,17,2),(2.1,16.95,3),
 (7.28,16.95,2),(8.2,16.9,2),(4.5,16.9,2),(4.6,16.7,3),(5.2,16.85,1),(2.74,16.7,3),(6.52,16.6,3),(7.42,16.3,2),(6.96,16.35,2),(6.34,16.45,1),(5.74,16.25,2),(4.17,15.95,2),(4.65,16,2),(5.23,16,2),(5.99,15.9,1),(3.6,15.75,2),
 (3.3,15.65,2),(1.9,15.75,1),(6,15.5,2),(1.27,15.2,2),(.92,15,2),(2.6,15.3,1),(3.25,15.3,1),(5.37,15,3),(5.6,15,2),(4.77,14.95,1),(6.82,14.85,1),(4,15,1),(2.37,14.7,2),(3.76,14.7,1),(5.2,14.65,2),(5.6,14.65,1),(6.34,14.4,1),
 (6.6,14.25,2),(4.1,14.4,2),(4.8,14.45,1),(5.25,14.25,2),(1.91,14,1),(2.79,14,1),(3.18,14.05,1),(4.4,13.9,1),(7.07,13.95,2),(6.75,13.8,4),(1.6,13.6,3),(2.41,13.5,1),(2.85,13.3,1),(4.05,13.5,1),(4.45,13.65,1),(5.48,13.5,1),
 (6.54,13.15,1),(.65,13.25,1),(1.17,13.2,2),(2.14,13.15,1),(.92,12.9,2),(1.45,12.95,1),(1.68,12.7,2),(.6,12.55,2),(4.1,12.95,2),(4.95,12.75,2),(5.44,12.9,1),(5.6,12.6,1),(5.25,12.45,1),(4.68,12.3,2),(4.45,12.2,1),(6.6,12.3,2),
 (1.52,12.3,5),(4.1,12.15,3),(4.45,11.8,5),(8.9,11.7,2),(2.37,11.7,1),(3.64,11.6,1),(6.5,11.45,1),(5.7,11.25,1),(3.7,11.05,3),(.53,11.05,4),(2.5,11.3,1),(3.18,11.3,1),(4.33,11,4),(4.68,11,1),(6.45,11.2,2),(7.1,11,2),(9.4,10.95,3),
 (5.07,10.75,1),(1.13,10.45,3),(3,10.25,1),(4.68,10.3,1),(1.68,10.3,1),(.35,9.9,1),(1.04,9.65,1),(3.14,9.7,1),(2.85,9.9,1),(5.9,9.7,1),(7,9.6,1),(5.28,9.3,2),(5.55,9.35,1),(.67,9.2,1),(3,9.35,1),(6.8,9.3,1),(9.86,9.35,1),(6.24,8.85,1),
 (2.19,8.7,4),(5.44,9,1),(5.83,9,1),(.3,9.1,1),(1.45,8.15,3),(2.95,8.85,1),(4.85,8.5,1),(6.17,8.05,1),(6.17,7.7,1),(9.1,7.95,1),(.44,7.75,1),(.72,7.85,1),(7.9,7.6,1),(5.77,7.7,1),(7.2,7.45,1),(3.5,7.2,1),(1.06,6.95,2),(5.6,7.05,1),
 (6.24,6.9,1),(2.14,6.95,2),(5,7.25,1),(9.29,6.8,3),(.07,7,1),(4.14,6.75,3),(4.2,6.5,1),(5.18,6.6,3),(2.14,6.5,1),(2.37,6.5,1),(4.68,6.15,4),(6.13,5.95,1),(7.3,6,1),(1.45,5.95,1),(2.2,5.9,1),(1.5,5.75,1),(4.2,5.7,1),(5.07,5.6,1),
 (5.6,5.6,1),(7.14,5.4,1),(7.65,5.25,2),(1.57,5,1),(3,5.8,1),(3.47,5.3,1),(4.33,5,1),(.76,5.15,1),(5.1,5.1,1),(.15,4.7,2),(1.2,4.7,2),(1.0,4.3,3),(3,4.4,2),(3.8,4.1,1),(4.8,4.4,1),(5.6,4.5,1),(6,4.3,1),(7.3,3.5,2),(8.2,3.5,2),
 (5.3,3.5,1),(3.8,3.3,2),(4.5,3.0,1),(5.95,2.9,2),(6.2,2.9,1),(7.3,2.9,2),(2.1,1.9,2),(5.3,1.5,1),(3.9,1.3,1),(7.1,1.37,1)]

# ------------------------------------------------------------------ heat map
ROWS = ['alpha\u2212Linolenic acid','CHEBI:167856','Zolmitriptan','Vitamin k1','CHEBI:220361','CHEBI:182329','Vinblastine','Xanthommatin',
 'alpha\u2212Guanidinoglutaric Acid','Zidovudine','Zectran','Zaleplon','CHEBI:182603','Veratridine','NCGC00380409-01','Xanthine','Voriconazole',
 'Veratrosine','SCHEMBL15328011',"Xanthosine 5'\u2212monophosphate"]
COLS = ['CK\u22122','CK\u22126','CK\u22123','CK\u22124','CK\u22125','CK\u22121','DG\u22121','DG\u22122','DG\u22123','DG\u22124','DG\u22125','DG\u22126',
 'HG\u22121','HG\u22123','HG\u22126','HG\u22125','HG\u22124','HG\u22122','YG\u22121','YG\u22125','YG\u22122','YG\u22123','YG\u22126','YG\u22124']
HEAT = [
 [1.7,1.3,.35,.05,.95,.45,-.69,-.65,-.73,-.9,-.85,-.85,.72,.72,.68,.35,.85,.7,-1.38,-1.25,-.98,-1.2,-1.12,-1.5],
 [-.85,-.92,-.92,-.92,-.93,-.93,-.8,-.77,-.77,-.75,-.77,-.8,2.0,1.65,1.6,1.45,1.6,1.6,-.3,-.5,-.52,-.28,-.38,-.38],
 [-.8,-.75,-.78,-.78,-.78,-.78,-.83,-.78,-.75,-.72,-.78,-.82,1.4,1.6,1.35,2.25,1.55,1.55,-.6,-.5,-.47,-.47,-.47,-.37],
 [-.97,-1.05,-.8,-.8,-.77,-.77,-.76,-.78,-.76,-.93,-1.0,-.9,1.55,1.6,1.55,1.8,1.3,1.65,-.35,-.27,-.25,-.1,0,-.82],
 [-1.72,-1.72,-1.72,-1.72,-1.72,-1.65,.06,.2,.12,.3,.07,.15,.1,.08,.12,.12,.22,.3,.3,.45,.45,.42,.4,.5],
 [-1.63,-1.55,-1.58,-1.55,-1.52,-1.52,.65,.66,.66,.6,.6,.48,.5,.5,.62,.62,.52,.42,-.27,-.23,-.28,-.22,-.25,-.17],
 [-1.42,-1.45,-1.42,-1.45,-1.47,-1.35,2.28,1.35,-.15,-.13,-.1,-.25,-.12,0,0,-.12,.8,.12,.08,.03,.05,.08,-.47,.95],
 [-1.3,-1.3,-1.3,-1.3,-1.3,-1.3,1.42,1.4,1.3,1.45,1.28,1.28,-.5,-.5,-.5,-.58,-.58,-.57,0,-.08,0,-.11,-.12,0],
 [-.93,-.97,-.9,-.98,-.9,-1.0,-.62,-.62,-.62,-.66,-.63,-.55,-.53,-.53,-.53,-.47,-.52,-.52,1.72,1.72,1.65,1.67,1.5,1.65],
 [-.73,-.73,-.73,-.72,-.73,-.75,-.76,-.82,-.78,-.78,-.75,-.78,-.6,-.6,-.6,-.6,-.6,-.6,1.85,1.85,1.6,1.45,1.6,1.75],
 [-.73,-.7,-.7,-.7,-.7,-.68,-.68,-.68,-.68,-.68,-.68,-.68,-.72,-.72,-.7,-.7,-.72,-.72,1.65,1.65,1.75,1.75,1.6,1.75],
 [-.7,-.68,-.68,-.72,-.72,-.72,-.72,-.66,-.7,-.7,-.68,-.68,-.66,-.63,-.68,-.62,-.65,-.68,1.65,1.8,1.5,1.75,1.6,1.75],
 [-.78,-.78,-.78,-.78,-.78,-.78,-.8,-.8,-.8,-.8,-.8,-.8,-.47,-.38,-.45,-.37,-.3,-.39,1.6,1.6,1.58,1.68,1.45,1.78],
 [-1.12,-1.07,-.72,-.6,-.32,-.47,-.36,-1.0,.1,-.52,-1.07,-1.02,-.46,-.46,-1.13,-.5,-1.15,-.45,1.5,1.48,1.45,1.45,1.65,1.5],
 [-1.02,-1.02,-1.02,-1.02,-1.02,-1.0,-1.08,-1.1,-1.12,-1.12,-1.18,-1.12,.55,.52,.47,.58,.47,.52,.97,.97,1.0,.93,1.05,.95],
 [-.95,-.95,-.95,-.95,-.95,-.95,-1.1,-1.1,-1.1,-1.1,-1.1,-1.1,.33,.33,.3,.43,.33,.3,1.2,1.05,1.15,1.3,1.08,1.03],
 [-.98,-.98,-.98,-.93,-.95,-.93,-.96,-.96,-1.03,-1.0,-1.05,-1.03,.01,.02,.05,0,0,-.03,1.35,1.48,1.38,1.43,1.68,1.3],
 [-.07,-.88,-.73,-.36,-.68,-.34,-1.08,-1.4,-1.3,-1.17,-.9,-1.13,-.37,-.68,-.5,-.33,.4,.18,1.22,1.33,1.25,2.2,1.3,.85],
 [-.06,.04,0,-.08,.05,.18,1.48,1.35,1.43,1.62,1.22,1.17,-1.0,-1.0,-1.1,-1.05,-1.12,-1.02,-1.0,-.96,-.95,-1.0,-.6,-1.0],
 [.78,.55,.8,.65,.77,1.1,.95,.92,.75,.72,.73,.67,-1.1,-1.1,-1.1,-1.1,-1.1,-1.1,-1.03,-1.03,-1.03,-1.03,-1.05,-1.07]]
GROUPS = ['CK','DG','HG','YG']
GROUP_COLORS = ['#F28E3F','#F9CC9F','#5F2358','#C5A5C5']
TOP_TREE = ((((0,1,21.5),((2,3,10.5),(4,5,10.5),21.5),31),((6,7,21.5),((8,9,10.5),(10,11,10.5),21.5),31),41.6),
            (((((12,13,10.5),14,21.5),15,31),(16,17,31),41.6)),51.7)
TOP_TREE = (TOP_TREE,(((((18,19,10.5),20,21.5),21,31),22,41.6),23,51.7),62.7)
LEFT_A = (0,((1,2,78),3,85),91)
LEFT_B = ((((4,5,72),6,78),7,85))
LEFT_C1 = ((((8,(9,(10,11,53),59),65),12,72),13,78))
LEFT_C2 = (((14,15,65),16,72),17,78)
LEFT_TREE = ((LEFT_A,(LEFT_B,(LEFT_C1,LEFT_C2,85),91),98),(18,19,98),104)

# ------------------------------------------------------------------ venn
VENN_LABELS = ['CK\u2212vs\u2212DG','CK\u2212vs\u2212YG','HG\u2212vs\u2212DG','HG\u2212vs\u2212YG','YG\u2212vs\u2212DG']
VENN_TOP = 4; VENN_RED = 5; VENN_GREEN = 11; VENN_YELLOW = 45; VENN_PURPLE = 15; VENN_ORANGE = 35; VENN_CENTER = 70

# ------------------------------------------------------------------ stacked bars
BAR_GROUPS = ['CK\u2212vs\u2212DG','CK\u2212vs\u2212HG','CK\u2212vs\u2212YG','HG\u2212vs\u2212DG','HG\u2212vs\u2212YG','YG\u2212vs\u2212DG']
BAR_TAGS = ['up','down','up','down','up','down','up','down','up','down','up','down']
CLASSES = ['Phenylpropanoids and polyketides','Organoheterocyclic compounds','Organic oxygen compounds','Organosulfur compounds','Organic nitrogen compounds',
 'Organic acids and derivatives','Nucleosides, nucleotides, and analogues','Lipids and lipid\u2212like molecules','Lignans, neolignans and related compounds','Benzenoids','Alkaloids and derivatives']
CLASS_COLORS = ['#E564A0','#BB70A9','#9881B8','#2E98D3','#17AFD0','#16B39B','#24AF58','#61AB2F','#A89C1A','#D1890F','#EB7569']
PHEN = [7,2,10,2,14,4,4,9,14,8,7,12]
OHET = [1,0,2,0,1,0,0,2,0,1,0,0]
OOXY = [21,16,21,17,37,17,18,23,37,24,18,40]
OSUL = [6,5,7,6,15,3,8,6,17,5,4,16]
ONIT = [6,3,7,1,6,2,3,6,2,8,3,5]
OACI = [36,9,74,8,55,9,14,64,32,68,19,54]
NUCL = [7,2,7,5,9,5,7,9,4,8,8,9]
LIPI = [30,15,43,10,45,11,22,39,33,41,25,45]
LIGN = [1,0,1,0,1,0,1,1,1,2,1,1]
BENZ = [23,8,24,5,41,7,9,23,36,20,14,41]
ALKA = [4,1,8,1,12,1,1,6,11,5,2,10]
STACK = [PHEN,OHET,OOXY,OSUL,ONIT,OACI,NUCL,LIPI,LIGN,BENZ,ALKA]

# ================================================================== drawing
fig = plt.figure(figsize=(W/100, H/100), dpi=100, facecolor='white')
def axpx(l, t, r, b, **k):
    return fig.add_axes([l/W, 1-b/H, (r-l)/W, (b-t)/H], **k)
def shift(lab, dx, dy):
    lab.set_transform(lab.get_transform()+ScaledTranslation(dx/100, -dy/100, fig.dpi_scale_trans))
def area(d):
    return (d*.72)**2
BLUE, ORANGE, RED = '#67C5E3', '#E6AB3A', '#E4404B'
MAJ = '#EFEFEF'

def expand(rows):
    xs, ys = [], []
    for y, row in rows:
        for x in row:
            xs.append(x); ys.append(y)
    return xs, ys

def volcano(box, xlim, ylim, xmaj, xmin, xlab, ymaj, ymin, ylab, hy, hx, vtop, dia, blue, core, orange, red, blued, cored, dash_lw):
    ax = axpx(*box)
    ax.set_xlim(*xlim); ax.set_ylim(*ylim)
    ax.set_xticks(xmaj); ax.set_xticklabels(xlab, fontsize=25)
    ax.set_yticks(ymaj); ax.set_yticklabels(ylab, fontsize=25)
    ax.set_xticks(xmin, minor=True); ax.set_yticks(ymin, minor=True)
    ax.grid(which='major', color=MAJ, lw=3.4, zorder=0)
    ax.grid(which='minor', color=MAJ, lw=2.0, zorder=0)
    ax.set_axisbelow(True)
    ax.tick_params(which='minor', length=0)
    ax.tick_params(which='major', length=5, width=1.6, pad=5)
    for s in ax.spines.values():
        s.set_linewidth(2.4)
    bx, by = expand(blue)
    ax.scatter(bx, by, s=area(blued), c=BLUE, lw=0, zorder=2)
    cx, cy = expand(core)
    ax.scatter(cx, cy, s=area(cored), c=BLUE, lw=0, zorder=2)
    ax.scatter([p[0] for p in orange], [p[1] for p in orange], s=[area(dia(p[2])) for p in orange], c=ORANGE, lw=0, zorder=3)
    ax.scatter([p[0] for p in red], [p[1] for p in red], s=[area(dia(p[2])) for p in red], c=RED, lw=0, zorder=4)
    ax.plot(hx, [hy, hy], color='k', lw=dash_lw, ls=(0, (4, 1.6)), zorder=5)
    ax.plot([0, 0], [ylim[0], vtop], color='k', lw=dash_lw+.6, ls=(0, (4, 1.2)), zorder=5)
    return ax

M = '\u2212 '
volcano((172,117,977,922),(-7.6,7.59),(-31.1,31.5),[-5,0,5],[-2.5,2.5],[M+'5','0','5'],[-15,0,15],[-22.5,-7.5,7.5,22.5],['\u221215','0','15'],
        -26,[-7.35,7.35],30.4,lambda v:6+.95*v,A_BLUE+A_DENSE,A_CORE,A_ORANGE,A_RED,9,24,1.4)
volcano((173,1082,988,1896),(-12.18,12.08),(-.55,21.47),[-10,-5,0,5,10],[-7.5,-2.5,2.5,7.5],[M+'10',M+'5','0','5','10'],[5,10,15,20],[2.5,7.5,12.5,17.5],['5','10','15','20'],
        1.31,[-11.7,11.6],20.6,lambda v:7+2.2*v,B_BLUE+B_DENSE,B_CORE,B_ORANGE,B_RED,9,24,1.6)
axc = volcano((190,2021,1007,2839),(-10.97,10.9),(-.28,24.0),[-10,-5,0,5,10],[-7.5,-2.5,2.5,7.5],[M+'10',M+'5','0','5','10'],[5,10,15,20],[2.5,7.5,12.5,17.5,22.5],['5','10','15','20'],
        1.37,[-10.5,10.5],23.7,lambda v:6+.9*v,C_BLUE+C_DENSE,C_CORE,C_ORANGE,C_RED,9,20,2.0)
yl = axc.get_yticklabels()
shift(yl[0], 0, 50); shift(yl[1], 0, 30)

# ---------- heat map
HX0, HX1, HY0, HY1 = 1396, 2646, 140, 1391
cmap = LinearSegmentedColormap.from_list('heat', ['#2E6DA6', '#FFFFFF', '#B2323C'])
norm = TwoSlopeNorm(vmin=-1.77, vcenter=0, vmax=2.28)
ah = axpx(HX0, HY0, HX1, HY1)
im = ah.imshow(HEAT, cmap=cmap, norm=norm, aspect='auto', interpolation='nearest')
for s in ah.spines.values():
    s.set_visible(False)
ah.set_xticks(range(24)); ah.set_xticklabels(COLS, fontsize=35, rotation=60, ha='right', rotation_mode='anchor')
ah.set_yticks(range(20)); ah.set_yticklabels(ROWS, fontsize=36)
ah.yaxis.tick_right()
ah.tick_params(axis='both', length=9, width=2.0, color='#999999', pad=3)
LABEL_DX = [0,2,3,3,3,2,5,3,-2,-1,3,4,0,3,-5,2,3,-3,5,4]
LABEL_DY = [-9,-7,-9,-2,-2,-6,-5,0,-8,0,-8,-7,-5,-5,0,-2,-8,-9,-5,-5]
for lab, dx, dy in zip(ah.get_yticklabels(), LABEL_DX, LABEL_DY):
    shift(lab, dx, dy)
for lab in ah.get_xticklabels():
    shift(lab, -14, -2)
ah.plot([-.5, 23.5], [7.5, 7.5], color='k', lw=3.6, solid_capstyle='butt')
ah.set_xlim(-.5, 23.5); ah.set_ylim(19.5, -.5)

aa = axpx(HX0, 98, HX1, 130)
aa.imshow([[0]*6+[1]*6+[2]*6+[3]*6], cmap=LinearSegmentedColormap.from_list('grp', GROUP_COLORS, N=4), aspect='auto', interpolation='nearest')
aa.axis('off')

def tree(node, draw):
    if isinstance(node, int):
        return node+.5, 0
    a, b, h = node
    pa, ha = tree(a, draw); pb, hb = tree(b, draw)
    draw([pa, pa, pb, pb], [ha, h, h, hb])
    return (pa+pb)/2, h

at = axpx(HX0, 30, HX1, 98)
at.set_xlim(0, 24); at.set_ylim(0, 68); at.axis('off')
tree(TOP_TREE, lambda p, h: at.plot(p, h, color='#666666', lw=2.0, solid_capstyle='projecting'))
al = axpx(1290, HY0, HX0, HY1)
al.set_xlim(-106, 0); al.set_ylim(20, 0); al.axis('off')
tree(LEFT_TREE, lambda p, h: al.plot([-v for v in h], p, color='#666666', lw=2.0, solid_capstyle='projecting'))

cax = axpx(3139, 1063, 3181, 1275)
cb = fig.colorbar(im, cax=cax)
cb.outline.set_visible(False)
cb.set_ticks([-1, 0, 1, 2]); cb.set_ticklabels(['1', '0', '1', '2'], fontsize=24)
cax.tick_params(length=6, width=1.6, color='#999999', pad=3)
cl = cax.get_yticklabels()
shift(cl[0], 20, 0); shift(cl[1], 0, -9); shift(cl[2], 0, -9); shift(cl[3], 0, -9)

# ---------- venn
av = axpx(1400, 1600, 2800, 2900)
av.set_xlim(1400, 2800); av.set_ylim(2900, 1600); av.axis('off')
VX, VY = 2078, 2195
PET = [(90,'#72C8E3'),(150,'#E7B14E'),(-150,'#A43B8F'),(-90,'#F2EA53'),(-30,'#3FBA86'),(30,'#E44F56')]
for i, (ang, col) in enumerate(PET):
    r = math.radians(ang)
    cx, cy = VX+285*math.cos(r), VY-285*math.sin(r)
    av.add_patch(Ellipse((cx, cy), 570, 267, angle=-ang, facecolor=col, edgecolor='none', alpha=.75, zorder=2+i*.01))
    av.add_patch(Ellipse((cx, cy), 570, 267, angle=-ang, facecolor='none', edgecolor='#B5B5B5', lw=2.0, alpha=.8, zorder=3))
av.add_patch(Circle((VX, VY), 116, facecolor='white', edgecolor='#666666', lw=2.2, zorder=4))
for val, x, y, rot, sz in [(VENN_TOP,2077,1741,0,44),(VENN_ORANGE,1684,1969,60,42),(VENN_RED,2471,1965,-60,42),(VENN_GREEN,2436,2400,60,42),
                           (VENN_PURPLE,1721,2404,-60,42),(VENN_YELLOW,2077,2612,0,42),(VENN_CENTER,2074,2195,0,33)]:
    av.text(x, y, str(val), family='Liberation Sans', fontsize=sz, rotation=rot, ha='center', va='center', zorder=5)
for lab, x, y, rot in zip(VENN_LABELS, [1534,2632,2623,2077,1543], [1878,1907,2454,2819,2512], [60,-60,60,0,-60]):
    av.text(x, y, lab, fontsize=53, rotation=rot, ha='center', va='center')

# ---------- stacked bars
ab = axpx(313, 3059, 2104, 4240)
ab.set_xlim(-.59, 11.57); ab.set_ylim(0, 235.8)
bottom = [0]*12
for vals, col in zip(STACK, CLASS_COLORS):
    ab.bar(range(12), vals, .70, bottom=bottom, color=col, lw=0)
    bottom = [b+v for b, v in zip(bottom, vals)]
ab.spines['top'].set_visible(False); ab.spines['right'].set_visible(False)
ab.spines['left'].set_linewidth(4.4); ab.spines['bottom'].set_linewidth(4.4)
ab.set_yticks([0,50,100,150,200]); ab.set_yticklabels(['0','50','100','150','200'], fontsize=38)
ab.set_xticks([.49,2.46,4.45,6.47,8.5,10.46]); ab.set_xticklabels(BAR_GROUPS, fontsize=39)
ab.tick_params(axis='both', length=4, width=3, pad=3)
for lab, dx in zip(ab.get_xticklabels(), [30,38,44,37,34,35]):
    shift(lab, dx, 0)
for lab in ab.get_yticklabels():
    shift(lab, 0, -5)
ab.set_ylabel('Number', fontsize=39)
ab.yaxis.set_label_coords((208-313)/(2104-313), .48)

# ---------- overlay: panel letters, volcano legends, group tags, bar legend
ov = fig.add_axes([0, 0, 1, 1], facecolor='none')
ov.set_xlim(0, W); ov.set_ylim(H, 0); ov.axis('off')
def T(x, y, s, size, **k):
    k.setdefault('ha', 'left'); k.setdefault('va', 'center')
    ov.text(x, y, s, fontsize=size, **k)
for s, x, y in [('A',42,43),('B',56,1012),('C',56,1946),('D',1237,82),('E',1291,1741),('F',77,3043)]:
    T(x, y, s, 56, ha='center')
YL = r'$\mathbf{-log10(}\mathbfit{P}\mathbf{-value)}$'
for tx, ty, lx, ly, yx, yy, txts in [(588,88,584,987,70,507,[(184,150,'Sig:333'),(184,183,'up:251'),(184,216,'down:82')]),
                                     (611,1046,610,1972,92,1500,[(191,1111,'Sig:401'),(191,1144,'up:322'),(191,1178,'down:79')]),
                                     (594,1994,637,2905,112,2432,[(209,2051,'Sig:486'),(209,2083,'up:400'),(209,2116,'down:86')])]:
    T(tx, ty, 'Volcano plot', 30, ha='center', weight='bold')
    T(lx, ly, 'Log2(FC)', 27, ha='center', weight='bold')
    T(yx, yy, YL, 26, ha='center', rotation=90)
    for a, b, s in txts:
        T(a, b, s, 24)
# VIP legends
for vx, vy, px, lx, items, cx, cy, dx, tx, dys, tys in [
    (1067,298,1057,1079,[('0',336,6),('10',365,12),('20',397,23),('30',430,34)],1058,505,1031,1047,[534,587,640],[536,585,641]),
    (1079,1221,1069,1096,[('0',1273,7),('5',1309,12),('10',1352,25),('15',1387,38),('20',1433,50)],1070,1498,1042,1057,[1529,1581,1636],[1530,1579,1637]),
    (1104,2228,1089,1107,[('0',2256,6),('10',2284,12),('20',2317,24)],1089,2392,1062,1076,[2422,2476,2531],[2425,2473,2532])]:
    T(vx, vy, 'VIP', 27, ha='center')
    for s, y, d in items:
        ov.scatter([px], [y], s=area(d), c='#666666', lw=0)
        T(lx, y, s, 24)
    T(cx, cy, 'color', 27, ha='center')
    for y, c in zip(dys, [ORANGE, BLUE, RED]):
        ov.scatter([dx], [y], s=area(24), c=c, lw=0)
    for y, s in zip(tys, ['Significiant down', 'Non\u2212significiant', 'Significiant Up']):
        T(tx, y, s, 24)
# heat map notes and legend
T(2059, 1572, 'CK\u2212vs\u2212HG', 48, ha='center')
T(2039, 394, 'Group 1', 44, ha='center')
T(2023, 949, 'Group 2', 44, ha='center')
for g, c, t, b, ty in zip(GROUPS, GROUP_COLORS, [1057,1103,1148,1194], [1081,1129,1174,1219], [1070,1116,1161,1208]):
    ov.fill_between([3258, 3283], [t, t], [b, b], color=c, lw=0)
    T(3292, ty, g, 28)
# up / down tags
for s, x, y in zip(BAR_TAGS, [404,552,701,844,983,1139,1284,1433,1573,1727,1866,2019], [3503,3908,3188,3943,3029,3922,3775,3279,3275,3267,3705,3052]):
    T(x, y, s, 34, ha='center')
# bar legend
LEG_TOP = [3177,3255,3334,3416,3493,3571,3648,3726,3803,3882,3950]
LEG_BOT = [3249,3326,3405,3486,3564,3642,3719,3797,3874,3944,4016]
LEG_TXT = [3217,3293,3372,3458,3542,3604,3676,3759,3836,3917,3993]
for name, col, t, b, y in zip(CLASSES[::-1], CLASS_COLORS[::-1], LEG_TOP, LEG_BOT, LEG_TXT):
    ov.fill_between([2124, 2195], [t, t], [b, b], color=col, lw=0)
    T(2205, y, name, 43)
ov.set_xlim(0, W); ov.set_ylim(H, 0)
fig.savefig('out.png', dpi=100)
